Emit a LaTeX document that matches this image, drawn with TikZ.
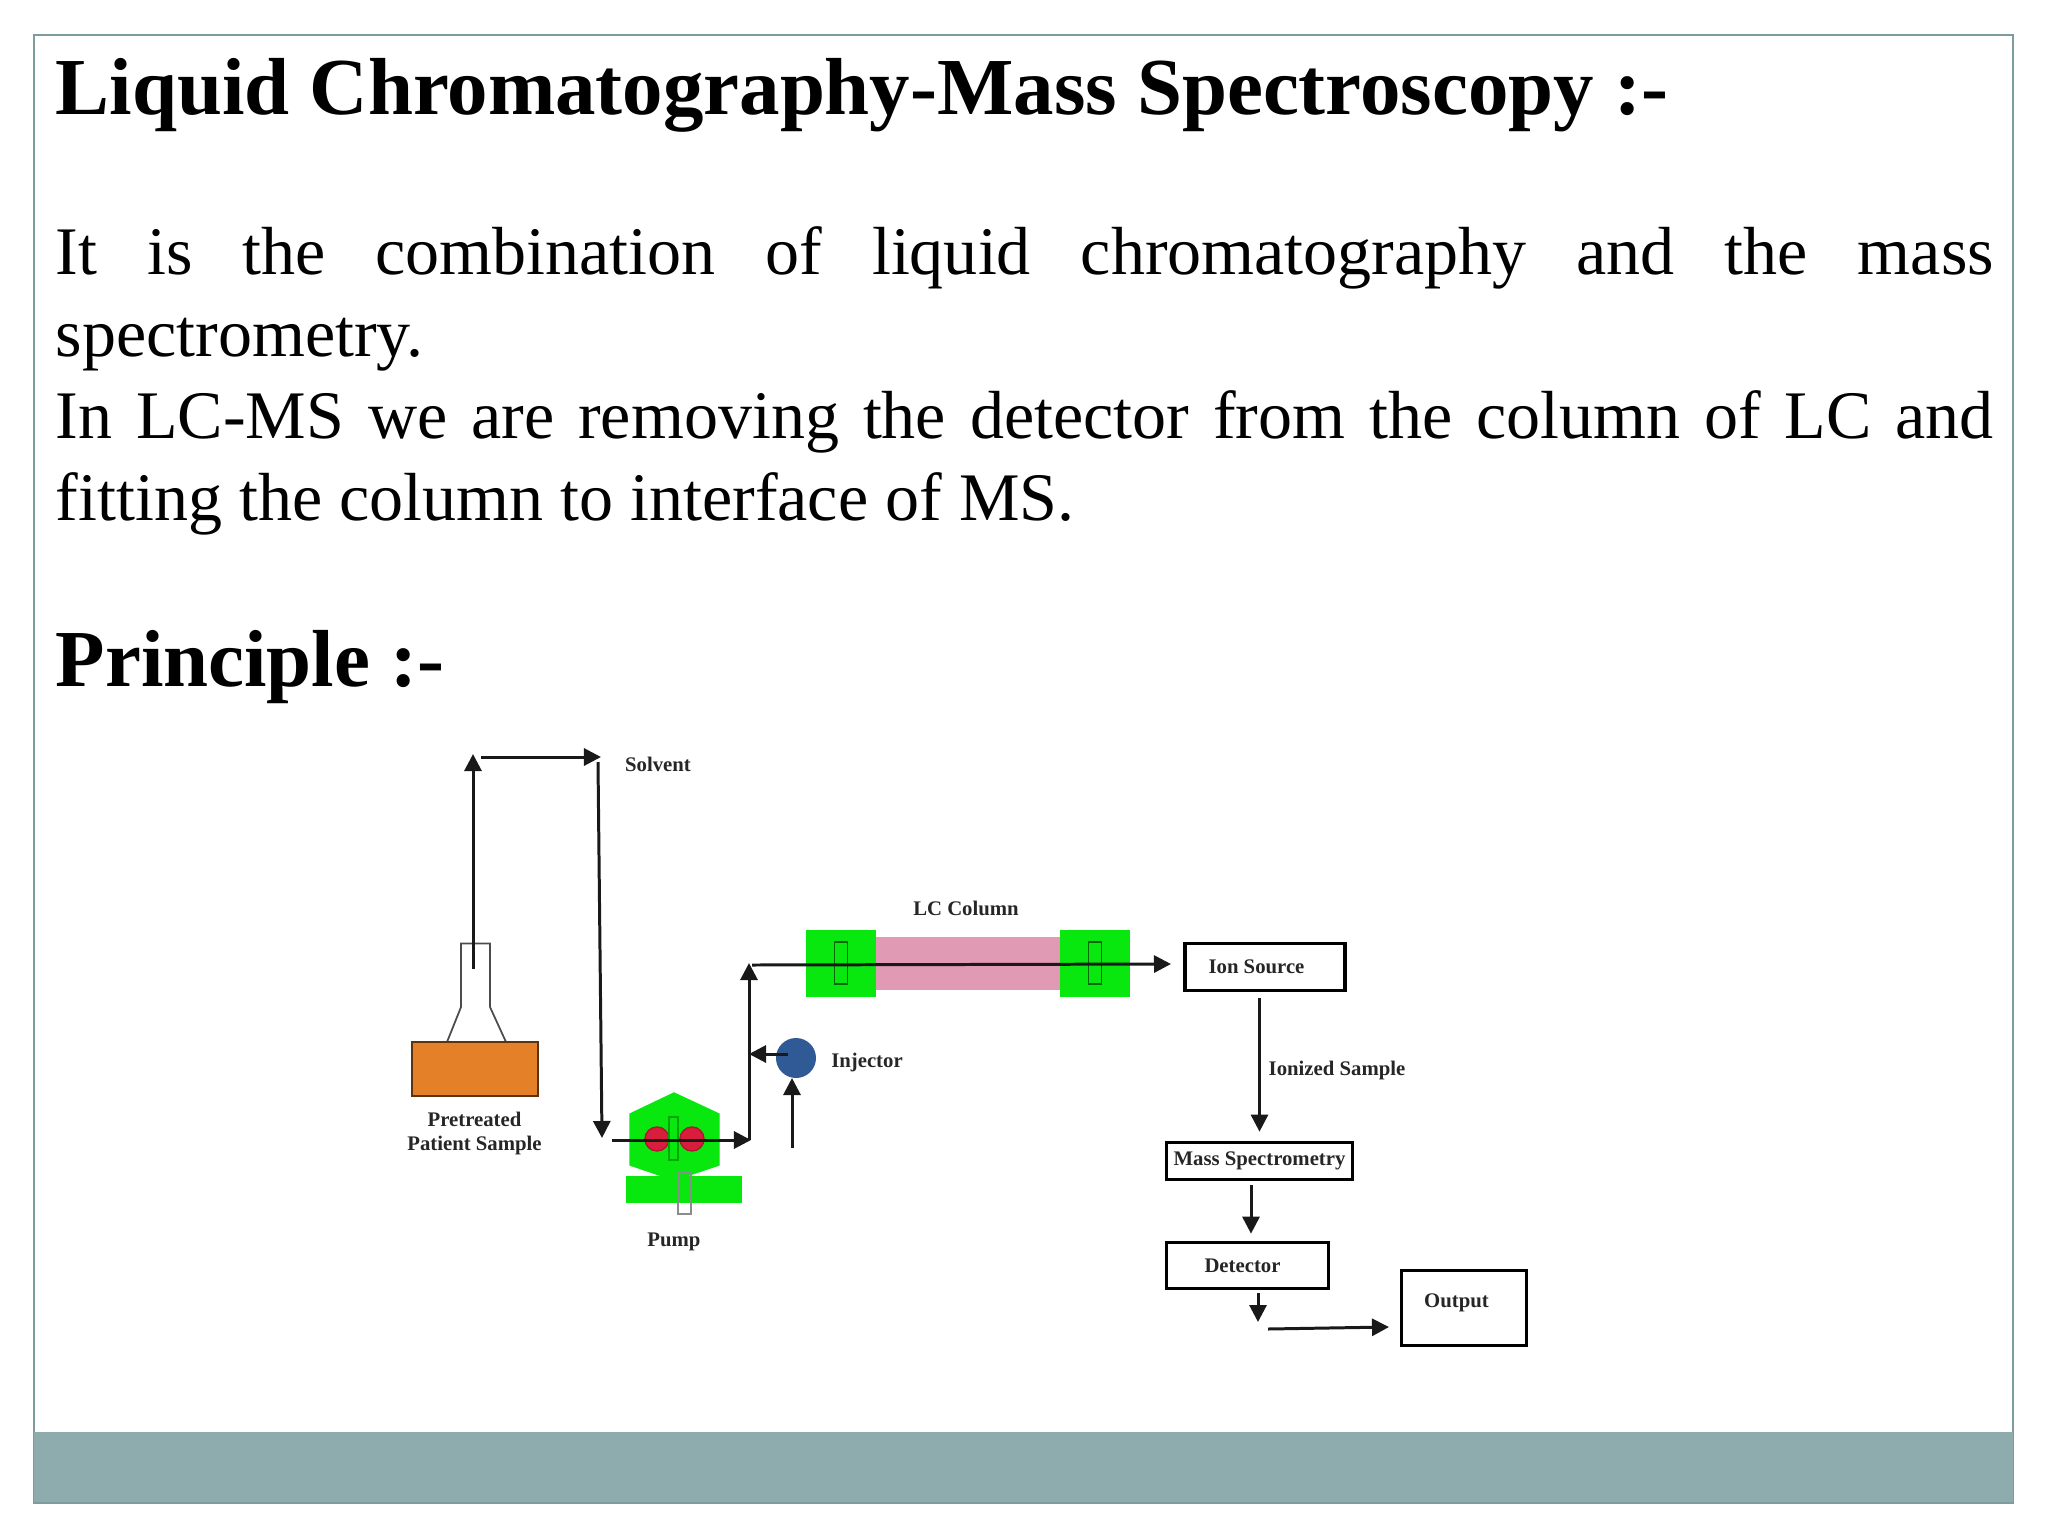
\documentclass[tikz,border=0pt]{standalone}
\usepackage{fontspec}
\setmainfont{Liberation Serif}
\usepackage{xcolor}
\usepackage{tikz}
\usetikzlibrary{arrows.meta}
\definecolor{bandteal}{HTML}{8EABAE}
\definecolor{framegray}{HTML}{7F9C9C}
\definecolor{flaskorange}{HTML}{E48028}
\definecolor{pumpgreen}{HTML}{08E80E}
\definecolor{columnpink}{HTML}{E09AB4}
\definecolor{rollerred}{HTML}{D81E3C}
\definecolor{injectblue}{HTML}{2F5A96}
\newcommand{\titlefont}{\fontsize{23}{28}\selectfont\bfseries}
\newcommand{\bodyfont}{\fontsize{19.35}{23.3}\selectfont}
\newcommand{\labelfont}{\fontsize{5.9}{6.9}\selectfont\bfseries}

\begin{document}
\begin{tikzpicture}[x=0.01cm,y=-0.01cm,>={Triangle[length=0.17cm,width=0.17cm]},
                    heading/.style={anchor=base west,inner sep=0pt,font=\titlefont},
                    lab/.style={inner sep=0pt,text=black!85,font=\labelfont},
                    unitbox/.style={draw,line width=1.05pt,inner sep=0pt,text=black!85,font=\labelfont},
                    flow/.style={->,line width=0.85pt,draw=black!90},
                    pumppart/.style={draw=pumpgreen,fill=pumpgreen,inner sep=0pt},
                    slot/.style={draw=black!60!green,fill=pumpgreen,line width=0.5pt,inner sep=0pt,minimum width=0.13cm,minimum height=0.42cm}]
  \useasboundingbox (0,0) rectangle (2048,1536);
  % slide frame
  \node[draw=framegray,line width=0.6pt,inner sep=0pt,minimum width=19.77cm,minimum height=14.67cm] (frame) at (1023.5,768.5) {};
  \node[fill=bandteal,inner sep=0pt,minimum width=19.77cm,minimum height=0.70cm] (band) at (1023.5,1467) {};
  % slide text
  \node[heading] (title) at (55,114) {Liquid Chromatography-Mass Spectroscopy :-};
  \node[anchor=north west,inner sep=0pt,text width=19.37cm,align=justify,font=\bodyfont] (para) at (55,226) {It is the combination of liquid chromatography and the mass\linebreak spectrometry.\par In LC-MS we are removing the detector from the column of LC and fitting the column to interface of MS.};
  \node[heading] (principle) at (55,686) {Principle :-};
  % sample flask
  \draw[black!70,line width=0.5pt] (447,1042)--(461,1007)--(461,943.5)--(490,943.5)--(490,1007)--(506,1042);
  \node[draw=black!60!flaskorange,fill=flaskorange,line width=0.5pt,inner sep=0pt,minimum width=1.26cm,minimum height=0.54cm] (sample) at (475,1069) {};
  \node[lab,align=center] (samplelab) at (474.5,1133.5) {Pretreated\\Patient Sample};
  % pump
  \draw[pumpgreen,fill=pumpgreen,line join=round] (674,1093)--(719,1114)--(719,1165)--(674,1180)--(630,1165)--(630,1114)--cycle;
  \node[pumppart,minimum width=1.14cm,minimum height=0.25cm] (pumpbase) at (684,1189.5) {};
  \node[circle,fill=rollerred,draw=rollerred!80!black,inner sep=0pt,minimum size=0.24cm] (rollera) at (657,1139) {};
  \node[circle,fill=rollerred,draw=rollerred!80!black,inner sep=0pt,minimum size=0.24cm] (rollerb) at (692,1139) {};
  \node[slot,draw=black!35!green,line width=0.4pt,minimum width=0.09cm,minimum height=0.43cm] (pumpslot) at (673.5,1138.5) {};
  \node[draw=black!45,line width=0.4pt,inner sep=0pt,minimum width=0.13cm,minimum height=0.42cm] (pumpshaft) at (684.5,1193) {};
  \node[lab] (pumplab) at (674,1241.5) {Pump};
  % injector
  \node[circle,fill=injectblue,inner sep=0pt,minimum size=0.40cm] (inject) at (796,1058) {};
  \node[lab] (injectlab) at (867,1062.5) {Injector};
  % column
  \node[fill=columnpink,inner sep=0pt,minimum width=1.85cm,minimum height=0.53cm] (column) at (968.5,963.5) {};
  \node[pumppart,minimum width=0.68cm,minimum height=0.65cm] (inleft) at (841,963.5) {};
  \node[pumppart,minimum width=0.68cm,minimum height=0.65cm] (inright) at (1095,963.5) {};
  \node[slot] (slotl) at (841,963) {};
  \node[slot] (slotr) at (1095,963) {};
  \node[lab] (columnlab) at (966,908) {LC Column};
  % right boxes
  \node[unitbox,minimum width=1.60cm,minimum height=0.47cm] (ion) at (1265,967) {\hspace{-0.17cm}Ion Source};
  \node[unitbox,minimum width=1.86cm,minimum height=0.37cm] (mass) at (1259.5,1161) {Mass Spectrometry};
  \node[unitbox,minimum width=1.62cm,minimum height=0.46cm] (detect) at (1247.5,1265.5) {\hspace{-0.1cm}Detector};
  \node[unitbox,minimum width=1.25cm,minimum height=0.75cm] (output) at (1464,1308) {\raisebox{0.14cm}{\hspace{-0.15cm}Output}};
  \node[lab] (ionizedlab) at (1337,1070.5) {Ionized Sample};
  \node[lab] (solventlab) at (658,764) {Solvent};
  % free ends of the flow lines
  \coordinate (neck) at (473,969);
  \coordinate (upa) at (473,754);
  \coordinate (toph) at (481,757);
  \coordinate (tope) at (601,757);
  \coordinate (downs) at (598,762);
  \coordinate (downe) at (602,1138);
  \coordinate (pumpin) at (612,1140);
  \coordinate (pumpout) at (751,1140);
  \coordinate (riser) at (749,1140);
  \coordinate (risertop) at (749,963);
  \coordinate (linein) at (752,965);
  \coordinate (lineout) at (1171,964);
  \coordinate (injectin) at (792,1148);
  \coordinate (injectup) at (792,1078);
  \coordinate (injects) at (788,1054);
  \coordinate (injecte) at (749,1054);
  \coordinate (detectdown) at (1258,1322);
  \coordinate (outs) at (1268,1329);
  \coordinate (oute) at (1389,1327);
  % edges
  \draw[flow] (neck)--(upa);
  \draw[flow] (toph)--(tope);
  \draw[flow] (downs)--(downe);
  \draw[flow] (pumpin)--(pumpout);
  \draw[flow] (riser)--(risertop);
  \draw[flow] (linein)--(lineout);
  \draw[flow] (injectin)--(injectup);
  \draw[flow] (injects)--(injecte);
  \draw[flow,shorten <=0.06cm,shorten >=0.09cm] (ion.south -| mass.north)--(mass.north);
  \draw[flow,shorten <=0.04cm,shorten >=0.07cm] ([xshift=0.035cm]mass.south -| detect.north)--([xshift=0.035cm]detect.north);
  \draw[flow,shorten <=0.03cm] (detect.south -| detectdown)--(detectdown);
  \draw[flow] (outs)--(oute);
\end{tikzpicture}
\end{document}
